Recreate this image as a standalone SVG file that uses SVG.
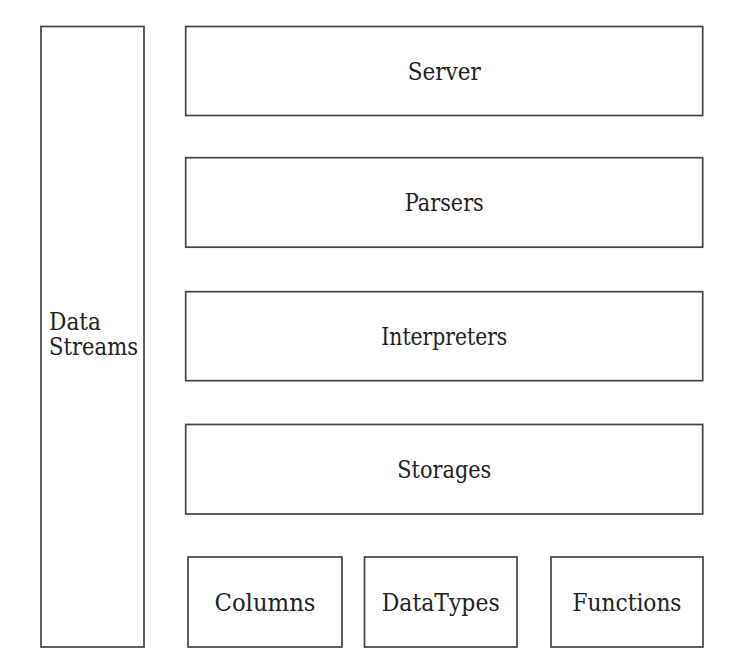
<svg xmlns="http://www.w3.org/2000/svg" width="737" height="666" viewBox="0 0 737 666">
<style>
rect.box{fill:#ffffff;stroke:#444444;stroke-width:1.7}
text{font-family:'DejaVu Serif',serif;font-size:24px;fill:#222222}
text.c{text-anchor:middle}
</style>
<rect width="737" height="666" fill="#ffffff"/>
<g id="connectors"></g>
<g id="datastreams">
<rect class="box" x="41" y="26.5" width="103" height="620.5"/>
<text x="49" y="330" textLength="52" lengthAdjust="spacingAndGlyphs">Data</text>
<text x="49" y="355" textLength="89" lengthAdjust="spacingAndGlyphs">Streams</text>
</g>
<g id="server">
<rect class="box" x="185.7" y="26.5" width="517" height="89"/>
<text class="c" x="444.3" y="80" textLength="73" lengthAdjust="spacingAndGlyphs">Server</text>
</g>
<g id="parsers">
<rect class="box" x="185.7" y="157.7" width="517" height="89.5"/>
<text class="c" x="444.3" y="211.3" textLength="79" lengthAdjust="spacingAndGlyphs">Parsers</text>
</g>
<g id="interpreters">
<rect class="box" x="185.7" y="291.7" width="517" height="89"/>
<text class="c" x="444.3" y="345" textLength="126" lengthAdjust="spacingAndGlyphs">Interpreters</text>
</g>
<g id="storages">
<rect class="box" x="185.7" y="424.5" width="517" height="89.5"/>
<text class="c" x="444.3" y="478" textLength="94" lengthAdjust="spacingAndGlyphs">Storages</text>
</g>
<g id="columns">
<rect class="box" x="188" y="557" width="154" height="90"/>
<text class="c" x="265" y="611" textLength="101" lengthAdjust="spacingAndGlyphs">Columns</text>
</g>
<g id="datatypes">
<rect class="box" x="364.5" y="557" width="152.5" height="90"/>
<text class="c" x="440.7" y="611" textLength="118" lengthAdjust="spacingAndGlyphs">DataTypes</text>
</g>
<g id="functions">
<rect class="box" x="551" y="557" width="152" height="90"/>
<text class="c" x="627" y="611" textLength="109" lengthAdjust="spacingAndGlyphs">Functions</text>
</g>
</svg>
